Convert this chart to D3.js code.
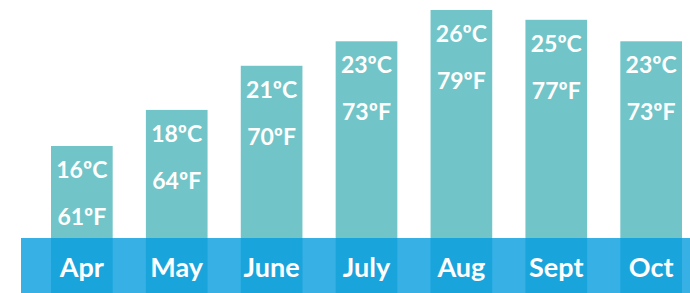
<!DOCTYPE html>
<html>
<head>
<meta charset="utf-8">
<script src="https://cdn.jsdelivr.net/npm/d3@7"></script>
<style>
  body { margin: 0; background: #fff; }
  svg { display: block; }
</style>
</head>
<body>
<script>
// monthly temperatures
var months = ["Apr", "May", "June", "July", "Aug", "Sept", "Oct"];
var tempC = [16, 18, 21, 23, 26, 25, 23];
var tempF = [61, 64, 70, 73, 79, 77, 73];

var width = 690, height = 293;
var baseY = 238;

var svg = d3.select("body")
	.append("svg")
	.attr("width", width)
	.attr("height", height);

var x = d3.scaleBand()
	.domain(months)
	.range([51, 682])
	.paddingInner(0.35)
	.paddingOuter(0);

// bar tops are not linear in the value, an inverse sqrt fits the picture
var y = d3.scalePow()
	.exponent(-0.5)
	.domain([16, 26])
	.range([146, 10]);

var data = months.map(function(m, i){
	return {month: m, c: tempC[i], f: tempF[i]};
});

// bars
svg.selectAll("rect.bar")
	.data(data)
	.enter()
	.append("rect")
	.attr("class", "bar")
	.attr("x", function(d){ return x(d.month); })
	.attr("y", function(d){ return y(d.c); })
	.attr("width", x.bandwidth())
	.attr("height", function(d){ return baseY - y(d.c); })
	.attr("fill", "#71c5c8");

// blue strip under the bars
svg.append("rect")
	.attr("x", 21)
	.attr("y", baseY)
	.attr("width", width - 21)
	.attr("height", height - baseY)
	.attr("fill", "#36b0e5");

svg.selectAll("rect.foot")
	.data(data)
	.enter()
	.append("rect")
	.attr("class", "foot")
	.attr("x", function(d){ return x(d.month); })
	.attr("y", baseY)
	.attr("width", x.bandwidth())
	.attr("height", height - baseY)
	.attr("fill", "#19a5dc");

var font = "'Lato', 'DejaVu Sans', sans-serif";

// celsius labels
svg.selectAll("text.c")
	.data(data)
	.enter()
	.append("text")
	.attr("class", "c")
	.attr("x", function(d){ return x(d.month) + x.bandwidth()/2; })
	.attr("y", function(d){ return y(d.c) + 32; })
	.attr("text-anchor", "middle")
	.style("font-family", font)
	.style("font-weight", "bold")
	.style("font-size", "23px")
	.attr("fill", "#fff")
	.text(function(d){ return d.c + "ºC"; });

// fahrenheit labels
svg.selectAll("text.f")
	.data(data)
	.enter()
	.append("text")
	.attr("class", "f")
	.attr("x", function(d){ return x(d.month) + x.bandwidth()/2; })
	.attr("y", function(d){ return y(d.c) + 79; })
	.attr("text-anchor", "middle")
	.style("font-family", font)
	.style("font-weight", "bold")
	.style("font-size", "23px")
	.attr("fill", "#fff")
	.text(function(d){ return d.f + "ºF"; });

// month names
svg.selectAll("text.m")
	.data(data)
	.enter()
	.append("text")
	.attr("class", "m")
	.attr("x", function(d){ return x(d.month) + x.bandwidth()/2; })
	.attr("y", 277)
	.attr("text-anchor", "middle")
	.style("font-family", font)
	.style("font-weight", "bold")
	.style("font-size", "27px")
	.attr("fill", "#fff")
	.text(function(d){ return d.month; });
</script>
</body>
</html>
